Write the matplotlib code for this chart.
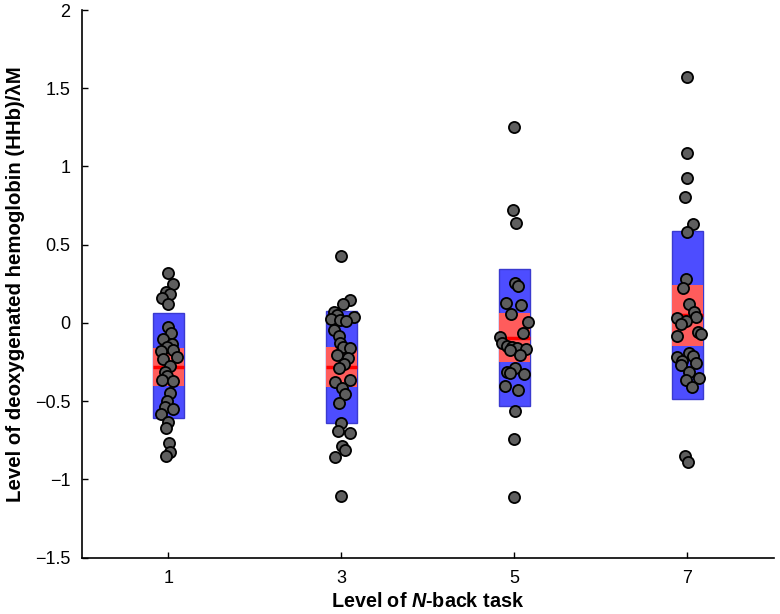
import matplotlib
matplotlib.use("Agg")
import matplotlib.pyplot as plt
import numpy as np

plt.rcParams['font.family'] = ['Liberation Sans', 'DejaVu Sans']
plt.rcParams['mathtext.fontset'] = 'custom'
plt.rcParams['mathtext.rm'] = 'Liberation Sans:bold'
plt.rcParams['mathtext.it'] = 'Liberation Sans:bold:italic'
plt.rcParams['mathtext.bf'] = 'Liberation Sans:bold'

levels = ["1", "3", "5", "7"]

# SD box (blue), 95% CI box (red), mean line
sd_top = [0.062, 0.079, 0.343, 0.588]
sd_bottom = [-0.605, -0.64, -0.53, -0.485]
ci_top = [-0.162, -0.155, 0.062, 0.243]
ci_bottom = [-0.40, -0.407, -0.25, -0.145]
means = [-0.28, -0.28, -0.094, 0.05]

# individual subjects (value, jitter offset)
g1_vals = [0.321, 0.247, 0.20, 0.183, 0.162, 0.121, -0.028, -0.066, -0.104, -0.136,
           -0.151, -0.177, -0.172, -0.219, -0.23, -0.275, -0.311, -0.339, -0.364, -0.369,
           -0.445, -0.496, -0.535, -0.552, -0.581, -0.631, -0.673, -0.765, -0.822, -0.848]
g1_jit = [0.0, 0.026, -0.013, 0.01, -0.038, 0.0, 0.0, 0.014, -0.029, 0.023,
          -0.009, -0.042, 0.029, 0.048, -0.029, 0.01, -0.019, -0.006, -0.038, 0.029,
          0.01, -0.009, -0.019, 0.029, -0.044, 0.0, -0.013, 0.006, 0.01, -0.013]

g2_vals = [0.428, 0.147, 0.119, 0.072, 0.051, 0.036, 0.026, 0.019, 0.015, -0.045,
           -0.083, -0.126, -0.151, -0.162, -0.204, -0.222, -0.264, -0.29, -0.375, -0.364,
           -0.413, -0.456, -0.509, -0.637, -0.69, -0.701, -0.786, -0.811, -0.858, -1.105]
g2_jit = [0.0, 0.048, 0.008, -0.04, -0.025, 0.071, -0.06, -0.006, 0.029, -0.04,
          -0.015, -0.006, 0.01, 0.048, -0.025, 0.036, 0.013, -0.012, -0.038, 0.048,
          0.004, 0.023, -0.015, 0.0, -0.021, 0.048, 0.004, 0.023, -0.038, 0.0]

g3_vals = [1.254, 0.722, 0.637, 0.254, 0.238, 0.130, 0.115, 0.058, 0.004, -0.062,
           -0.087, -0.13, -0.147, -0.155, -0.162, -0.168, -0.172, -0.204, -0.29, -0.311,
           -0.321, -0.326, -0.403, -0.428, -0.56, -0.743, -1.114]
g3_jit = [0.0, -0.008, 0.010, 0.002, 0.021, -0.046, 0.038, -0.021, 0.077, 0.048,
          -0.085, -0.071, -0.042, -0.014, 0.015, 0.067, -0.023, 0.031, 0.002, -0.042,
          -0.023, 0.058, -0.056, 0.019, 0.002, 0.0, 0.0]

g4_vals = [1.57, 1.088, 0.924, 0.803, 0.633, 0.583, 0.281, 0.226, 0.119, 0.072,
           0.036, 0.03, 0.015, -0.006, -0.056, -0.07, -0.083, -0.215, -0.194, -0.211,
           -0.243, -0.268, -0.254, -0.311, -0.364, -0.353, -0.407, -0.85, -0.89]
g4_jit = [0.0, 0.0, 0.0, -0.017, 0.033, 0.0, -0.006, -0.025, 0.010, 0.038,
          0.048, -0.058, -0.009, -0.038, 0.062, 0.077, -0.063, -0.058, 0.010, 0.033,
          -0.029, -0.038, 0.052, 0.010, -0.009, 0.067, 0.029, -0.013, 0.006]

groups = [(g1_vals, g1_jit), (g2_vals, g2_jit), (g3_vals, g3_jit), (g4_vals, g4_jit)]

fig = plt.figure(figsize=(7.8, 6.14), dpi=100)
ax = fig.add_axes([0.1047, 0.0917, 0.8876, 0.892])

pos = np.arange(1, len(levels) + 1)
w = 0.177

sd_h = np.array(sd_top) - np.array(sd_bottom)
ci_h = np.array(ci_top) - np.array(ci_bottom)
ax.bar(pos, sd_h, bottom=sd_bottom, width=w, color='#4d4dff', edgecolor='#3a3ad0',
       linewidth=1, zorder=2)
ax.bar(pos, ci_h, bottom=ci_bottom, width=w, color='#ff5c5c', edgecolor='none', zorder=3)
ax.hlines(means, pos - w / 2, pos + w / 2, colors='#ff0000', linewidth=2.5, zorder=4)

for p, (vals, jit) in zip(pos, groups):
    ax.scatter(p + np.array(jit), vals, s=64, facecolor='#5e5e5e', edgecolor='black',
               linewidth=1.3, zorder=5)

ax.set_xlim(0.5, 4.5)
ax.set_ylim(-1.5, 2)
ax.set_xticks(pos)
ax.set_xticklabels(levels)
ax.set_yticks([-1.5, -1, -0.5, 0, 0.5, 1, 1.5, 2])
ax.set_yticklabels(['\u22121.5', '\u22121', '\u22120.5', '0', '0.5', '1', '1.5', '2'])
ax.tick_params(direction='in', length=4, width=1, labelsize=13)
ax.tick_params(axis='x', pad=9)
ax.tick_params(axis='y', pad=8)
ax.spines['top'].set_visible(False)
ax.spines['right'].set_visible(False)
ax.spines['left'].set_linewidth(1.2)
ax.spines['bottom'].set_linewidth(1.2)

ax.set_xlabel(r'Level of $\it{N}$-back task', fontsize=14.2, fontweight='bold')
ax.set_ylabel('Level of deoxygenated hemoglobin (HHb)/\u03bbM', fontsize=14.7,
              fontweight='bold')
ax.xaxis.set_label_coords(0.5, -0.063)
ax.yaxis.set_label_coords(-0.082, 0.5)

fig.savefig('out.png', dpi=100)
